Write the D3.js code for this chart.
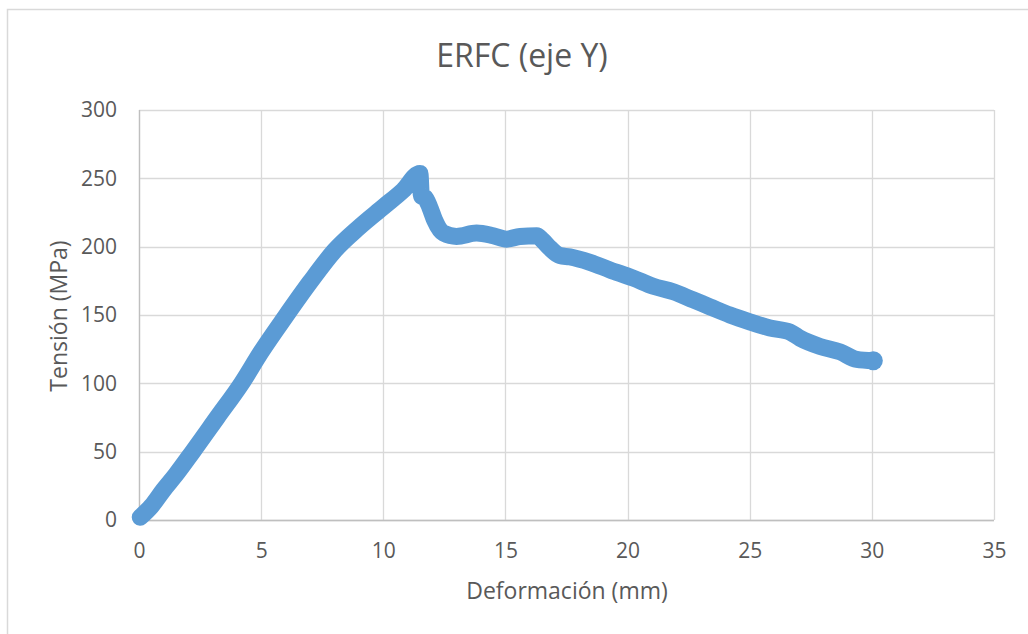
<!DOCTYPE html>
<html>
<head>
<meta charset="utf-8">
<script src="https://cdn.jsdelivr.net/npm/d3@7"></script>
<style>
  html, body { margin: 0; padding: 0; background: #ffffff; }
  svg { display: block; }
</style>
</head>
<body>
<svg id="chart" width="1028" height="634"></svg>
<script>
// Deformation (mm) vs. stress (MPa) for the ERFC specimen, Y axis
const deformacion = [
  0.05, 0.5, 1.0, 1.5, 2.2, 3.2, 4.2, 5.0, 6.0, 7.0, 8.0, 9.0, 10.0,
  10.8, 11.5, 11.56, 11.7, 11.9, 12.1, 12.46, 13.0, 13.82, 14.5, 15.05,
  15.6, 16.28, 16.5, 16.82, 17.23, 17.64, 18.46, 19.28, 20.23, 21.05, 21.87,
  22.69, 23.37, 24.19, 25.0, 25.83, 26.65, 27.06, 27.88, 28.7, 29.38, 30.06
];
const tension = [
  2, 10, 22, 33, 50, 75, 100, 123, 149, 174, 197, 214, 229,
  241, 253.5, 237, 236, 229, 219.5, 210, 207.5, 210, 208, 205.5,
  207.5, 208, 205, 199, 193.5, 192.5, 188.5, 183, 177, 171, 167,
  161, 156, 150, 145, 140.5, 137.5, 133, 127, 123, 117.5, 116.5
];
const xTicks = [0, 5, 10, 15, 20, 25, 30, 35];
const yTicks = [0, 50, 100, 150, 200, 250, 300];

const titulo = "ERFC (eje Y)";
const ejeX = "Deformación (mm)";
const ejeY = "Tensión (MPa)";

const svg = d3.select("#chart");
const font = "'Open Sans', 'Noto Sans', sans-serif";
const textColor = "#595959";
const gridColor = "#d9d9d9";
const serieColor = "#5b9bd5";

const plot = { left: 139, top: 110, right: 994, bottom: 520 };

const x = d3.scaleLinear().domain([0, 35]).range([plot.left, plot.right]);
const y = d3.scaleLinear().domain([0, 300]).range([plot.bottom, plot.top]);

// Chart frame
svg.append("rect")
  .attr("x", 7.5).attr("y", 9.5)
  .attr("width", 1100).attr("height", 700)
  .attr("fill", "#ffffff")
  .attr("stroke", gridColor)
  .attr("stroke-width", 1.5);

// Gridlines
const grid = svg.append("g");
grid.selectAll("line.h").data(yTicks).join("line")
  .attr("class", "h")
  .attr("x1", plot.left).attr("x2", plot.right)
  .attr("y1", d => Math.round(y(d)) + 0.5).attr("y2", d => Math.round(y(d)) + 0.5)
  .attr("stroke", gridColor).attr("stroke-width", 1.3);
grid.selectAll("line.v").data(xTicks).join("line")
  .attr("class", "v")
  .attr("y1", plot.top).attr("y2", plot.bottom)
  .attr("x1", d => Math.round(x(d)) + 0.5).attr("x2", d => Math.round(x(d)) + 0.5)
  .attr("stroke", gridColor).attr("stroke-width", 1.3);

// Axis lines
svg.append("line")
  .attr("x1", plot.left).attr("x2", plot.right)
  .attr("y1", plot.bottom + 0.5).attr("y2", plot.bottom + 0.5)
  .attr("stroke", "#bfbfbf").attr("stroke-width", 1.3);
svg.append("line")
  .attr("x1", plot.left + 0.5).attr("x2", plot.left + 0.5)
  .attr("y1", plot.top).attr("y2", plot.bottom)
  .attr("stroke", "#bfbfbf").attr("stroke-width", 1.3);

// Tick labels
const xAxis = d3.axisBottom(x).tickValues(xTicks).tickSize(0).tickPadding(23);
const gx = svg.append("g").attr("transform", `translate(0,${plot.bottom})`).call(xAxis);
gx.select(".domain").remove();
gx.selectAll("text").attr("fill", textColor).style("font-family", font).style("font-size", "21px");

const yAxis = d3.axisLeft(y).tickValues(yTicks).tickSize(0).tickPadding(22);
const gy = svg.append("g").attr("transform", `translate(${plot.left},0)`).call(yAxis);
gy.select(".domain").remove();
gy.selectAll("text").attr("fill", textColor).style("font-family", font).style("font-size", "21px");

// Series
const datos = deformacion.map((d, i) => ({ x: d, y: tension[i] }));
const linea = d3.line().x(d => x(d.x)).y(d => y(d.y)).curve(d3.curveMonotoneX);
svg.append("path")
  .datum(datos)
  .attr("d", linea)
  .attr("fill", "none")
  .attr("stroke", serieColor)
  .attr("stroke-width", 17)
  .attr("stroke-linecap", "round")
  .attr("stroke-linejoin", "round");
svg.append("circle")
  .attr("cx", x(deformacion[deformacion.length - 1]))
  .attr("cy", y(tension[tension.length - 1]))
  .attr("r", 9.5)
  .attr("fill", serieColor);

// Titles
svg.append("text")
  .attr("x", 522).attr("y", 67)
  .attr("text-anchor", "middle")
  .attr("fill", textColor)
  .style("font-family", font).style("font-size", "32px")
  .text(titulo);

svg.append("text")
  .attr("x", 567).attr("y", 599)
  .attr("text-anchor", "middle")
  .attr("fill", textColor)
  .style("font-family", font).style("font-size", "23px")
  .text(ejeX);

svg.append("text")
  .attr("transform", "translate(67,316) rotate(-90)")
  .attr("text-anchor", "middle")
  .attr("fill", textColor)
  .style("font-family", font).style("font-size", "23px")
  .text(ejeY);
</script>
</body>
</html>
